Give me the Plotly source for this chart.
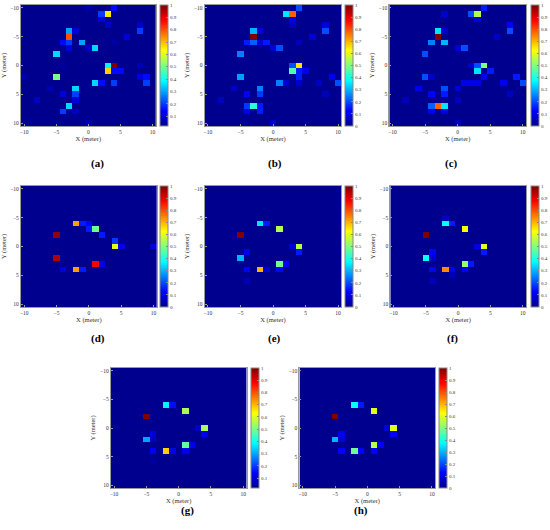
import plotly.graph_objects as go

# grid of the room, 1 m cells
grid = list(range(-10, 11))

# (x, y, value) of the cells that stand out from the background
cells_a = [(4, -10, 0.15), (2, -9, 0.2), (3, -9, 0.65), (2, -8, 0.1), (3, -7, 0.08),
           (8, -7, 0.08), (8, -6, 0.2), (6, -5, 0.1), (-3, -6, 0.3), (-2, -6, 0.1),
           (-3, -5, 0.8), (-4, -4, 0.15), (-3, -4, 0.2), (-1, -4, 0.3), (-3, -3, 0.1),
           (0, -3, 0.08), (1, -3, 0.35), (-5, -2, 0.35), (3, 0, 0.38), (4, 0, 1.0),
           (3, 1, 0.68), (4, 1, 0.15), (5, 1, 0.15), (-5, 2, 0.5), (8, 2, 0.1),
           (9, 2, 0.15), (9, 3, 0.2), (1, 3, 0.35), (2, 3, 0.15), (4, 3, 0.2),
           (-2, 4, 0.35), (-6, 4, 0.06), (-4, 5, 0.1), (-2, 5, 0.2), (-8, 6, 0.08),
           (-2, 6, 0.1), (-3, 7, 0.35), (-4, 8, 0.2), (-2, 8, 0.08), (0, 10, 0.06),
           (-10, 2, 0.05), (8, 0, 0.06), (4, -4, 0.05), (0, -10, 0.05), (-4, 0, 0.04)]
cells_b = [(4, -10, 0.2), (2, -9, 0.35), (3, -9, 0.78), (3, -8, 0.1), (3, -7, 0.06),
           (8, -7, 0.08), (8, -6, 0.2), (6, -5, 0.08), (-3, -6, 0.3), (-2, -6, 0.08),
           (-3, -5, 1.0), (-4, -4, 0.15), (-3, -4, 0.22), (-2, -4, 0.08), (-1, -4, 0.15),
           (0, -3, 0.08), (1, -3, 0.2), (-5, -2, 0.25), (3, 0, 0.2), (4, 0, 0.65),
           (3, 1, 0.45), (4, 1, 0.15), (5, 1, 0.1), (4, 2, 0.15), (-5, 2, 0.28),
           (9, 2, 0.1), (10, 3, 0.2), (7, 3, 0.06), (1, 3, 0.25), (2, 3, 0.07),
           (4, 3, 0.07), (-2, 4, 0.25), (-6, 4, 0.07), (-4, 5, 0.12), (-2, 5, 0.18),
           (-8, 6, 0.06), (-4, 7, 0.18), (-3, 7, 0.42), (-2, 7, 0.15), (-4, 8, 0.1),
           (-2, 8, 0.15), (0, 10, 0.07), (8, 5, 0.05), (4, -4, 0.05)]
cells_c = [(4, -10, 0.15), (2, -9, 0.2), (3, -9, 0.55), (-2, -9, 0.07), (3, -8, 0.08),
           (8, -7, 0.12), (8, -6, 0.2), (6, -5, 0.07), (-3, -6, 0.35), (-2, -6, 0.07),
           (-3, -5, 1.0), (-4, -4, 0.25), (-2, -4, 0.3), (0, -3, 0.08), (1, -3, 0.2),
           (-5, -2, 0.2), (2, 0, 0.07), (3, 0, 0.2), (4, 0, 0.5), (3, 1, 0.35),
           (5, 1, 0.15), (4, 2, 0.1), (-5, 2, 0.2), (-4, 2, 0.06), (9, 2, 0.15),
           (1, 3, 0.1), (2, 3, 0.1), (3, 3, 0.1), (7, 3, 0.1), (10, 3, 0.2),
           (-6, 4, 0.1), (-2, 4, 0.2), (0, 4, 0.08), (-4, 5, 0.12), (-2, 5, 0.15),
           (-8, 6, 0.05), (0, 6, 0.05), (-4, 7, 0.22), (-3, 7, 0.78), (-2, 7, 0.35),
           (-4, 8, 0.1), (-2, 8, 0.1), (0, 10, 0.05), (8, 5, 0.06)]
cells_d = [(-2, -4, 0.72), (-1, -4, 0.15), (0, -4, 0.12), (0, -3, 0.15), (1, -3, 0.48),
           (2, -2, 0.15), (-5, -2, 0.98), (4, -1, 0.18), (4, 0, 0.6), (5, 0, 0.1),
           (10, 0, 0.08), (-5, 2, 0.95), (1, 3, 0.88), (2, 3, 0.1), (-4, 4, 0.08),
           (-2, 4, 0.72), (-1, 4, 0.15)]
cells_e = [(-2, -4, 0.35), (-1, -4, 0.15), (1, -3, 0.55), (-5, -2, 1.0), (3, 0, 0.08),
           (4, 0, 0.55), (4, 1, 0.15), (-4, 1, 0.1), (-5, 2, 0.3), (1, 3, 0.48),
           (2, 3, 0.12), (-4, 4, 0.12), (-2, 4, 0.7), (-1, 4, 0.08), (1, 4, 0.12),
           (-4, 6, 0.05)]
cells_f = [(-2, -5, 0.05), (-2, -4, 0.38), (-1, -4, 0.15), (1, -3, 0.62), (-5, -2, 1.0),
           (3, 0, 0.1), (4, 0, 0.6), (4, 1, 0.15), (-4, 1, 0.12), (-5, 2, 0.38),
           (-4, 2, 0.07), (1, 3, 0.52), (2, 3, 0.15), (-4, 4, 0.12), (-2, 4, 0.74),
           (-1, 4, 0.1), (1, 4, 0.12), (-1, 5, 0.05), (-4, 6, 0.05)]
cells_g = [(-2, -4, 0.38), (-1, -4, 0.15), (1, -3, 0.55), (-5, -2, 1.0), (3, 0, 0.08),
           (4, 0, 0.55), (4, 1, 0.12), (-4, 1, 0.1), (-5, 2, 0.3), (-4, 2, 0.07),
           (1, 3, 0.48), (2, 3, 0.12), (-4, 4, 0.12), (-2, 4, 0.68), (-1, 4, 0.12),
           (1, 4, 0.12), (-4, 6, 0.04)]
cells_h = [(-2, -4, 0.38), (-1, -4, 0.15), (1, -3, 0.6), (-5, -2, 1.0), (3, 0, 0.08),
           (4, 0, 0.6), (4, 1, 0.12), (-4, 1, 0.1), (-5, 2, 0.3), (-4, 2, 0.08),
           (1, 3, 0.55), (2, 3, 0.12), (-4, 4, 0.12), (-2, 4, 0.48), (-1, 4, 0.12),
           (1, 4, 0.12)]

# background level of each map, and where its colour bar starts
floors = {"a": 0.02, "b": 0.0, "c": 0.0, "d": 0.0, "e": 0.0, "f": 0.0, "g": 0.02, "h": 0.0}
cb_ticks = [0, 0.1, 0.2, 0.3, 0.4, 0.5, 0.6, 0.7, 0.8, 0.9, 1]
cb_labels = ["0", "0.1", "0.2", "0.3", "0.4", "0.5", "0.6", "0.7", "0.8", "0.9", "1"]

jet = [[0, "rgb(0,0,143)"], [0.125, "rgb(0,0,255)"], [0.375, "rgb(0,255,255)"],
       [0.625, "rgb(255,255,0)"], [0.875, "rgb(255,0,0)"], [1, "rgb(128,0,0)"]]

W, H = 550, 530
# plot box in pixels: left, right, top, bottom, colorbar left, label x, label y
boxes = {
    "a": (21, 156, 5, 126, 160, 90, 156),
    "b": (205, 342, 5, 126, 345, 275, 156),
    "c": (390, 527, 5, 126, 531, 460, 156),
    "d": (21, 157, 186, 307, 160, 90, 338),
    "e": (205, 342, 186, 307, 345, 275, 338),
    "f": (391, 527, 186, 307, 531, 460, 338),
    "g": (111, 247, 368, 488, 251, 180, 518),
    "h": (300, 436, 368, 488, 439, 370, 518),
}
panels = [("a", cells_a), ("b", cells_b), ("c", cells_c), ("d", cells_d),
          ("e", cells_e), ("f", cells_f), ("g", cells_g), ("h", cells_h)]


def to_z(cells, floor):
    z = [[floor for _ in grid] for _ in grid]
    for x, y, v in cells:
        z[y + 10][x + 10] = v
    return z


serif = "Liberation Serif"
fig = go.Figure()
annotations = []
for i, (name, cells) in enumerate(panels, start=1):
    x0, x1, y0, y1, cbx, lx, ly = boxes[name]
    sfx = "" if i == 1 else str(i)
    fig.add_trace(go.Heatmap(
        x=grid, y=grid, z=to_z(cells, floors[name]),
        zmin=floors[name], zmax=1, colorscale=jet,
        xaxis="x" + sfx, yaxis="y" + sfx,
        colorbar=dict(
            x=cbx / W, xanchor="left", xpad=0, y=1 - (y0 + y1) / 2 / H, yanchor="middle",
            ypad=0, len=(y1 - y0) / H, lenmode="fraction", thickness=8,
            outlinewidth=1, outlinecolor="#888",
            tickvals=cb_ticks, ticktext=cb_labels, ticks="inside", ticklen=2,
            tickcolor="#888", tickfont=dict(family=serif, size=5, color="#333"),
        ),
    ))
    axis_common = dict(showline=True, mirror=True, linecolor="#999", linewidth=1,
                       ticks="inside", ticklen=2, tickcolor="#999", showgrid=False,
                       zeroline=False, tickfont=dict(family=serif, size=5.5, color="#333"))
    fig.layout["xaxis" + sfx] = dict(
        domain=[x0 / W, x1 / W], anchor="y" + sfx, range=[-10.5, 10.5],
        tickvals=[-10, -5, 0, 5, 10],
        title=dict(text="X (meter)", font=dict(family=serif, size=6.5, color="#333"), standoff=1),
        **axis_common)
    fig.layout["yaxis" + sfx] = dict(
        domain=[1 - y1 / H, 1 - y0 / H], anchor="x" + sfx, range=[10.5, -10.5],
        tickvals=[-10, -5, 0, 5, 10],
        title=dict(text="Y (meter)", font=dict(family=serif, size=6.5, color="#333"), standoff=3),
        **axis_common)
    annotations.append(dict(
        text="<b>(" + name + ")</b>", x=lx / W, y=1 - ly / H, xref="paper", yref="paper",
        showarrow=False, borderpad=0, font=dict(family=serif, size=11, color="black"),
    ))

fig.update_layout(
    width=W, height=H, margin=dict(l=0, r=0, t=0, b=0),
    paper_bgcolor="white", plot_bgcolor="white",
    annotations=annotations, showlegend=False,
)
# the page's default body margin would push the figure 8 px off
fig.write_html("out.html", config={"displayModeBar": False},
               post_script="document.body.style.margin = '0px';")
